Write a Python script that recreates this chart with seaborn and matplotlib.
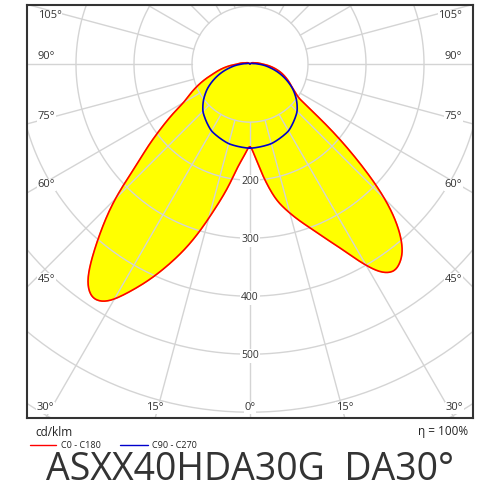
import numpy as np
import pandas as pd
import matplotlib
matplotlib.use('Agg')
import matplotlib.pyplot as plt
import seaborn as sns

# --- Data (cd/klm), angle gamma in degrees from nadir ---
# C0 side (right) and C180 side (left)
c0_ang = [0, 4, 11, 21, 26, 29, 32, 35, 39, 42, 45, 49, 54, 60, 75, 90, 105, 135, 180]
c0_val = [136, 166, 239, 306, 350, 388, 425, 438, 420, 385, 332, 227, 106, 85, 55, 22, 8, 2, 0]
c180_ang = [0, 7, 14, 19, 25, 31, 34, 37, 41.5, 45, 48, 54, 60, 75, 90, 105, 135, 180]
c180_val = [136, 178, 260, 333, 410, 480, 489, 469, 390, 330, 264, 190, 130, 66, 22, 8, 2, 0]
# C90 - C270 (symmetric)
c90_ang = [0, 15, 30, 45, 52, 60, 70, 80, 90, 100, 135, 180]
c90_val = [145, 142, 133, 115, 102, 85, 60, 35, 15, 5, 1, 0]

rings = [100, 200, 300, 400, 500, 600, 700]
ring_labels = [200, 300, 400, 500]
side_angles = [45, 60, 75, 90, 105]
bottom_angles = [30, 15, 0, 15, 30]
bottom_signed = [-30, -15, 0, 15, 30]

XL, YT, YB = 384, 102, -610


def curve(ang_r, val_r, ang_l, val_l):
    g = np.linspace(0, 180, 721)
    r_right = np.interp(g, ang_r, val_r)
    r_left = np.interp(g, ang_l, val_l)
    gam = np.concatenate([g, 360 - g[::-1][1:-1]])
    r = np.concatenate([r_right, r_left[::-1][1:-1]])
    # light circular smoothing to round off the corners of the linear interpolation
    k = np.exp(-0.5 * (np.arange(-12, 13) / 5.0) ** 2)
    k /= k.sum()
    rp = np.concatenate([r[-12:], r, r[:12]])
    r = np.convolve(rp, k, mode='same')[12:-12]
    t = np.radians(np.append(gam, gam[0]))
    r = np.append(r, r[0])
    return pd.DataFrame({"x": r * np.sin(t), "y": -r * np.cos(t), "i": np.arange(len(r))})


red = curve(c0_ang, c0_val, c180_ang, c180_val)
blue = curve(c90_ang, c90_val, c90_ang, c90_val)

sns.set_style("white")
plt.rcParams['font.family'] = ['Open Sans', 'DejaVu Sans']

fig = plt.figure(figsize=(5, 5), dpi=100)
ax = fig.add_axes([0.054, 0.164, 0.892, 0.826])
ax.set_xlim(-XL, XL)
ax.set_ylim(YB, YT)
ax.set_aspect('equal')
ax.set_xticks([])
ax.set_yticks([])
for s in ax.spines.values():
    s.set_color('#333333')
    s.set_linewidth(1.5)

# fills
ax.fill(red["x"], red["y"], color='#ffff00', zorder=1)
ax.fill(blue["x"], blue["y"], color='#ffff00', zorder=1)

# grid
gc = '#d4d4d4'
tt = np.linspace(0, 2 * np.pi, 400)
for r in rings:
    ax.plot(r * np.sin(tt), r * np.cos(tt), color=gc, lw=1, zorder=2)
for a in range(0, 360, 15):
    t = np.radians(a)
    ax.plot([100 * np.sin(t), 1000 * np.sin(t)], [-100 * np.cos(t), -1000 * np.cos(t)],
            color=gc, lw=1, zorder=2)

sns.lineplot(data=red, x="x", y="y", sort=False, estimator=None, units="i",
             color='#ff0000', lw=1.2, ax=ax, zorder=4)
ax.plot(red["x"], red["y"], color='#ff0000', lw=1.2, zorder=4)
ax.plot(blue["x"], blue["y"], color='#0000cc', lw=1.2, zorder=4)
ax.set_xlabel("")
ax.set_ylabel("")

# ring labels
for r in ring_labels:
    ax.text(0, -r - 3, str(r), ha='center', va='center', fontsize=7.5, color='#333333',
            bbox=dict(facecolor='white', edgecolor='none', pad=1), zorder=5)

# side angle labels
for a in side_angles:
    t = np.radians(a)
    y = -XL * np.cos(t) / np.sin(t)
    y = min(y, YT - 32)
    for sgn, ha in [(-1, 'left'), (1, 'right')]:
        ax.text(sgn * (XL - 18), y + 4, f"{a}°", ha=ha, va='bottom', fontsize=8,
                color='#333333', bbox=dict(facecolor='white', edgecolor='none', pad=0.5), zorder=5)

# bottom angle labels
for lab, a in zip(bottom_angles, bottom_signed):
    x = YB * np.tan(np.radians(a)) * -1
    ax.text(x, YB + 8, f"{lab}°", ha='center', va='bottom', fontsize=8, color='#333333',
            bbox=dict(facecolor='white', edgecolor='none', pad=0.5), zorder=5)

# legend / footer
fig.text(35 / 500, 1 - 433 / 500, "cd/klm", fontsize=8.5, color='#222222', va='center')
fig.add_artist(plt.Line2D([30 / 500, 56 / 500], [1 - 445 / 500] * 2, color='#ff0000', lw=1))
fig.text(61 / 500, 1 - 445 / 500, "C0 - C180", fontsize=6.5, color='#222222', va='center')
fig.add_artist(plt.Line2D([120 / 500, 148 / 500], [1 - 445 / 500] * 2, color='#0000cc', lw=1))
fig.text(152 / 500, 1 - 445 / 500, "C90 - C270", fontsize=6.5, color='#222222', va='center')
fig.text(468 / 500, 1 - 432 / 500, "η = 100%", fontsize=8.5, color='#222222', va='center', ha='right')
fig.text(0.5, 1 - 470 / 500, "ASXX40HDA30G  DA30°", fontsize=27, color='#333333',
         ha='center', va='center')

fig.savefig("out.png", dpi=100)
